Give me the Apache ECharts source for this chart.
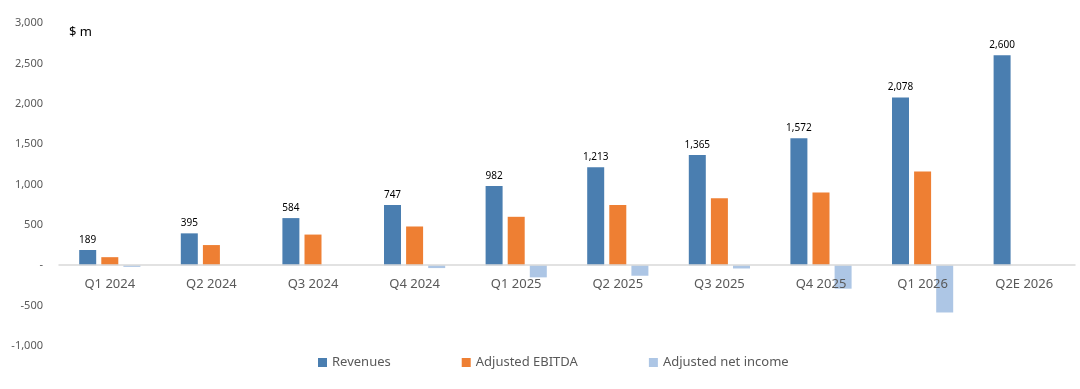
<!DOCTYPE html>
<html>
<head>
<meta charset="utf-8">
<script src="https://cdn.jsdelivr.net/npm/echarts@6/dist/echarts.min.js"></script>
<style>
  html, body { margin: 0; padding: 0; background: #fff; }
  #chart { width: 1080px; height: 389px; }
</style>
</head>
<body>
<div id="chart"></div>
<script>
const quarters = ['Q1 2024', 'Q2 2024', 'Q3 2024', 'Q4 2024', 'Q1 2025', 'Q2 2025', 'Q3 2025', 'Q4 2025', 'Q1 2026', 'Q2E 2026'];
const revenues = [189, 395, 584, 747, 982, 1213, 1365, 1572, 2078, 2600];
const ebitda = [100, 250, 380, 480, 600, 745, 830, 900, 1160, null];
const netIncome = [-20, null, null, -35, -150, -130, -40, -290, -585, null];

const fmt = v => v === 0 ? '-' : v.toLocaleString('en-US');

const chart = echarts.init(document.getElementById('chart'));
chart.setOption({
  animation: false,
  textStyle: { fontFamily: 'Noto Sans' },
  title: {
    text: '$ m',
    left: 64,
    top: 21,
    textStyle: { fontSize: 13, fontWeight: 'normal', color: '#000' }
  },
  grid: { left: 59, right: 5, top: 23, bottom: 43, containLabel: false },
  legend: {
    bottom: 15,
    left: 313,
    itemWidth: 9,
    itemHeight: 9,
    itemGap: 71,
    icon: 'rect',
    textStyle: { fontSize: 13, color: '#595959' },
    data: ['Revenues', 'Adjusted EBITDA', 'Adjusted net income']
  },
  xAxis: {
    type: 'category',
    data: quarters,
    offset: -81,
    z: 10,
    axisLine: { onZero: false, lineStyle: { color: '#d9d9d9', width: 1.5 } },
    axisTick: { show: false },
    axisLabel: { color: '#595959', fontSize: 13, margin: 13 }
  },
  yAxis: {
    type: 'value',
    min: -1000,
    max: 3000,
    interval: 500,
    splitLine: { show: false },
    axisLine: { show: false },
    axisTick: { show: false },
    axisLabel: { color: '#595959', fontSize: 11, margin: 16, formatter: fmt }
  },
  series: [
    {
      name: 'Revenues',
      type: 'bar',
      data: revenues,
      barWidth: 17,
      barGap: '30%',
      itemStyle: { color: '#4a7eb0' },
      label: {
        show: true,
        position: 'top',
        distance: 5,
        fontSize: 10,
        color: '#000',
        formatter: p => fmt(p.value)
      }
    },
    {
      name: 'Adjusted EBITDA',
      type: 'bar',
      data: ebitda,
      barWidth: 17,
      barGap: '30%',
      itemStyle: { color: '#ee7f33' }
    },
    {
      name: 'Adjusted net income',
      type: 'bar',
      data: netIncome,
      barWidth: 17,
      barGap: '30%',
      itemStyle: { color: '#adc6e5' }
    }
  ]
});
</script>
</body>
</html>
